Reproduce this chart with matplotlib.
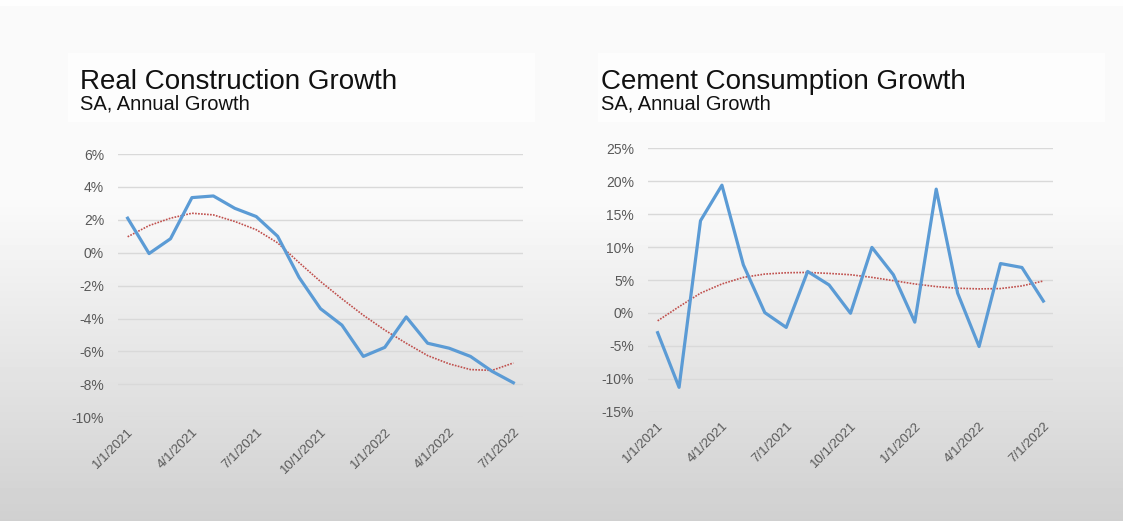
import numpy as np
import matplotlib.pyplot as plt
from matplotlib.patches import Rectangle

plt.rcParams["font.family"] = ["Liberation Sans", "DejaVu Sans"]

# monthly observations, 1/1/2021 .. 7/1/2022
months = ["1/1/2021", "2/1/2021", "3/1/2021", "4/1/2021", "5/1/2021", "6/1/2021",
          "7/1/2021", "8/1/2021", "9/1/2021", "10/1/2021", "11/1/2021", "12/1/2021",
          "1/1/2022", "2/1/2022", "3/1/2022", "4/1/2022", "5/1/2022", "6/1/2022",
          "7/1/2022"]
tick_labels = ["1/1/2021", "4/1/2021", "7/1/2021", "10/1/2021",
               "1/1/2022", "4/1/2022", "7/1/2022"]

# real construction growth (%) and its polynomial trend
construction = [2.1, -0.05, 0.85, 3.35, 3.45, 2.7, 2.2, 1.0, -1.5, -3.4, -4.4, -6.3,
                -5.75, -3.9, -5.5, -5.8, -6.3, -7.2, -7.9]
construction_trend = [0.97, 1.65, 2.1, 2.4, 2.3, 1.9, 1.4, 0.6, -0.6, -1.75, -2.8,
                      -3.8, -4.7, -5.5, -6.25, -6.75, -7.1, -7.15, -6.7]

# cement consumption growth (%) and its polynomial trend
cement = [-3.0, -11.3, 14.0, 19.4, 7.3, 0.05, -2.2, 6.3, 4.25, -0.05, 9.95, 5.8,
          -1.4, 18.8, 3.0, -5.1, 7.5, 6.9, 1.8]
cement_trend = [-1.2, 0.95, 3.0, 4.4, 5.4, 5.9, 6.1, 6.15, 6.0, 5.8, 5.4, 4.9,
                4.4, 4.0, 3.75, 3.65, 3.7, 4.1, 4.85]

BLUE = "#5b9bd5"
RED = "#c0504d"
GRID = "#d9d9d9"
TICK = "#595959"

W, H = 1123, 521
fig = plt.figure(figsize=(W / 100, H / 100), dpi=100)

# slide background: near white on top, fading to grey at the bottom
bg = fig.add_axes([0, 0, 1, 1], zorder=-10)
rows = np.arange(H)
shade = np.where(rows < 200, 0.98, 0.98 - (rows - 200) / (H - 200) * 0.165)
shade[:6] = 0.995
bg.imshow(np.repeat(shade[:, None], 4, axis=1), cmap="gray", vmin=0, vmax=1,
          aspect="auto", extent=[0, 1, 0, 1], origin="upper")
bg.set_axis_off()

# faint white boxes behind the titles
for x0, x1 in [(68, 535), (598, 1105)]:
    fig.patches.append(Rectangle((x0 / W, 1 - 122 / H), (x1 - x0) / W, 69 / H,
                                 transform=fig.transFigure, facecolor="#fdfdfd",
                                 edgecolor="none", zorder=-5))

x = np.arange(len(months))
tick_pos = [months.index(t) for t in tick_labels]


def draw_panel(rect, values, trend, ylim, step, title, title_x):
    ax = fig.add_axes(rect)
    ax.patch.set_alpha(0)
    ax.plot(x, trend, color=RED, lw=1.2, ls=(0, (1, 0.8)), zorder=3)
    ax.plot(x, values, color=BLUE, lw=2.3, zorder=4)
    ax.set_xlim(-0.45, 18.45)
    ax.set_ylim(*ylim)
    yt = np.arange(ylim[0], ylim[1] + step / 2, step)
    ax.set_yticks(yt)
    ax.set_yticklabels([f"{v:.0f}%" for v in yt])
    ax.grid(axis="y", color=GRID, lw=1)
    ax.set_axisbelow(True)
    ax.set_xticks(tick_pos)
    ax.set_xticklabels(tick_labels, rotation=45, ha="right", va="top",
                       rotation_mode="anchor")
    ax.tick_params(axis="both", length=0, labelcolor=TICK)
    ax.tick_params(axis="y", pad=10, labelsize=10)
    ax.tick_params(axis="x", pad=6, labelsize=9.5)
    for s in ax.spines.values():
        s.set_visible(False)
    fig.text(title_x / W, 1 - 89 / H, title, fontsize=20, color="#111111",
             va="baseline")
    fig.text(title_x / W, 1 - 109 / H, "SA, Annual Growth", fontsize=14.5,
             color="#111111", va="baseline")
    return ax


draw_panel([118 / W, 1 - 417.3 / H, 405 / W, 263.3 / H], construction,
           construction_trend, (-10, 6), 2, "Real Construction Growth", 80)
draw_panel([648 / W, 1 - 411.7 / H, 405 / W, 263.4 / H], cement,
           cement_trend, (-15, 25), 5, "Cement Consumption Growth", 601)

fig.savefig("out.png", dpi=100)
